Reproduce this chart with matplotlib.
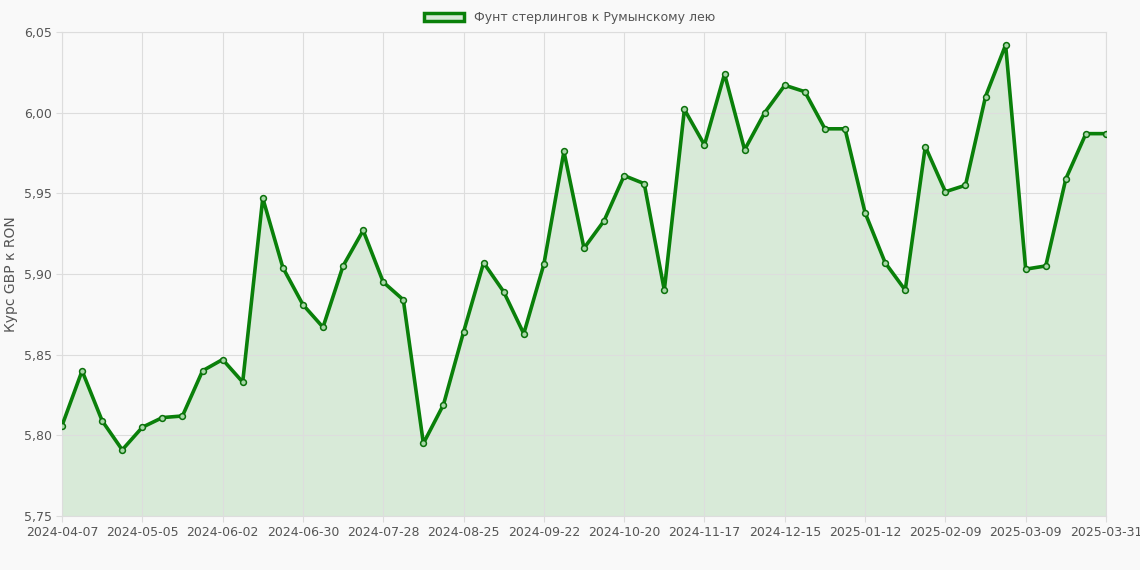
import datetime as dt
import matplotlib
matplotlib.use("Agg")
import matplotlib.pyplot as plt
from matplotlib.patches import Patch

start = dt.date(2024, 4, 7)
dates = [(start + dt.timedelta(weeks=i)).isoformat() for i in range(52)] + ["2025-03-31"]
rates = [5.806, 5.840, 5.809, 5.791, 5.805, 5.811, 5.812, 5.840, 5.847, 5.833,
         5.947, 5.904, 5.881, 5.867, 5.905, 5.927, 5.895, 5.884, 5.795, 5.819,
         5.864, 5.907, 5.889, 5.863, 5.906, 5.976, 5.916, 5.933, 5.961, 5.956,
         5.890, 6.002, 5.980, 6.024, 5.977, 6.000, 6.017, 6.013, 5.990, 5.990,
         5.938, 5.907, 5.890, 5.979, 5.951, 5.955, 6.010, 6.042, 5.903, 5.905,
         5.959, 5.987, 5.987]
yticks = [5.75, 5.80, 5.85, 5.90, 5.95, 6.00, 6.05]

fig = plt.figure(figsize=(11.4, 5.7), dpi=100, facecolor='#f9f9f9')
ax = fig.add_axes([62/1140, 54/570, 1044/1140, 484/570])
ax.set_facecolor('#f9f9f9')
xs = list(range(len(rates)))
ax.fill_between(xs, rates, 5.75, color='#d8ead8', zorder=1)
ax.plot(xs, rates, '-', color='#0a800a', lw=2.6, zorder=3)
ax.plot(xs, rates, 'o', ms=4.2, mfc='#a8d8a8', mec='#0a700a', mew=1.1, zorder=4)
ax.set_xlim(0, len(rates) - 1)
ax.set_ylim(5.75, 6.05)
tick_idx = list(range(0, 52, 4)) + [52]
ax.set_xticks(tick_idx)
ax.set_xticklabels([dates[i] for i in tick_idx], fontsize=9, color='#555555')
ax.set_yticks(yticks)
ax.set_yticklabels([f"{v:.2f}".replace('.', ',') for v in yticks], fontsize=9, color='#555555')
ax.grid(color='#dddddd', lw=0.8, zorder=0)
for s in ax.spines.values():
    s.set_color('#dddddd')
ax.tick_params(length=4, color='#dddddd')
ax.set_ylabel("Курс GBP к RON", fontsize=10, color='#555555')
fig.legend(handles=[Patch(facecolor='#d8ead8', edgecolor='#0a800a', lw=2.5,
                          label='Фунт стерлингов к Румынскому лею')],
           loc='upper center', bbox_to_anchor=(0.5, 1.0), frameon=False, fontsize=9,
           labelcolor='#555555', handlelength=3.2)
fig.savefig("out.png", dpi=100, facecolor=fig.get_facecolor())
